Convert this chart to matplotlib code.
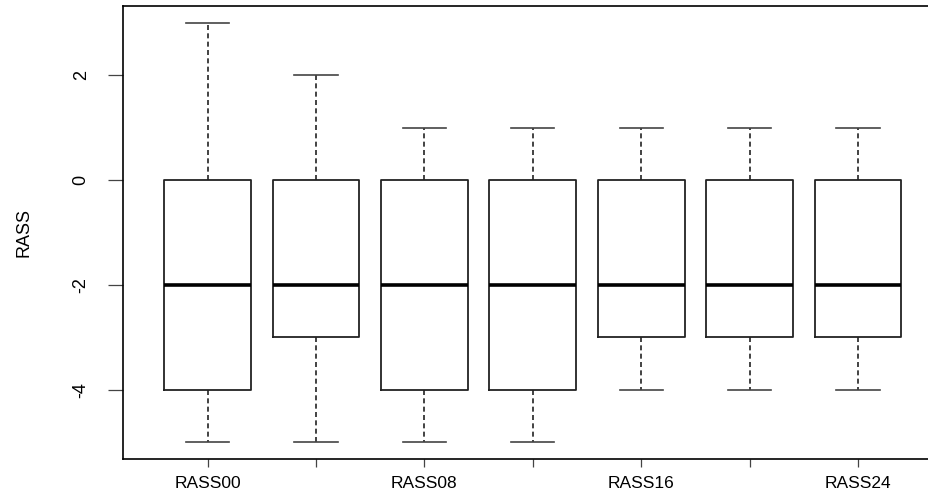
import numpy as np
import matplotlib
matplotlib.use("Agg")
import matplotlib.pyplot as plt

plt.rcParams['font.family'] = ['Liberation Sans', 'DejaVu Sans']

labels = ['RASS00', 'RASS04', 'RASS08', 'RASS12', 'RASS16', 'RASS20', 'RASS24']
whislo = [-5, -5, -5, -5, -4, -4, -4]
q1 = [-4, -3, -4, -4, -3, -3, -3]
med = [-2, -2, -2, -2, -2, -2, -2]
q3 = [0, 0, 0, 0, 0, 0, 0]
whishi = [3, 2, 1, 1, 1, 1, 1]
shown = ['RASS00', 'RASS08', 'RASS16', 'RASS24']

stats = []
for i, lab in enumerate(labels):
    stats.append(dict(label=lab, whislo=whislo[i], q1=q1[i], med=med[i],
                      q3=q3[i], whishi=whishi[i], fliers=[]))

fig = plt.figure(figsize=(9.29, 4.97), dpi=100)
ax = fig.add_axes([123/929, 38/497, 819.6/929, 453/497])

pos = np.arange(1, len(labels) + 1)
ax.bxp(stats, positions=pos, widths=0.8, showfliers=False,
       boxprops=dict(color='#222222', lw=1.3),
       medianprops=dict(color='black', lw=2.6, solid_capstyle='butt'),
       whiskerprops=dict(color='#222222', lw=1.2, linestyle=(0, (3, 2))),
       capprops=dict(color='#444444', lw=1.2),
       capwidths=0.4)

ax.set_xlim(0.22, 7.78)
ax.set_ylim(-5.32, 3.32)
ax.set_xticks(pos)
ax.set_xticklabels([l if l in shown else '' for l in labels], fontsize=12.5)
ax.set_yticks([-4, -2, 0, 2])
ax.set_yticklabels(['-4', '-2', '0', '2'], rotation=90, va='center', fontsize=13)
ax.tick_params(axis='y', length=11, width=0.9, pad=13, color='#444444')
ax.tick_params(axis='x', length=6, width=0.9, pad=6, color='#444444')
ax.set_ylabel('RASS', fontsize=13)
ax.yaxis.set_label_coords(-0.11, 0.5)
for s in ax.spines.values():
    s.set_linewidth(1.2)

fig.savefig('out.png', dpi=100)
